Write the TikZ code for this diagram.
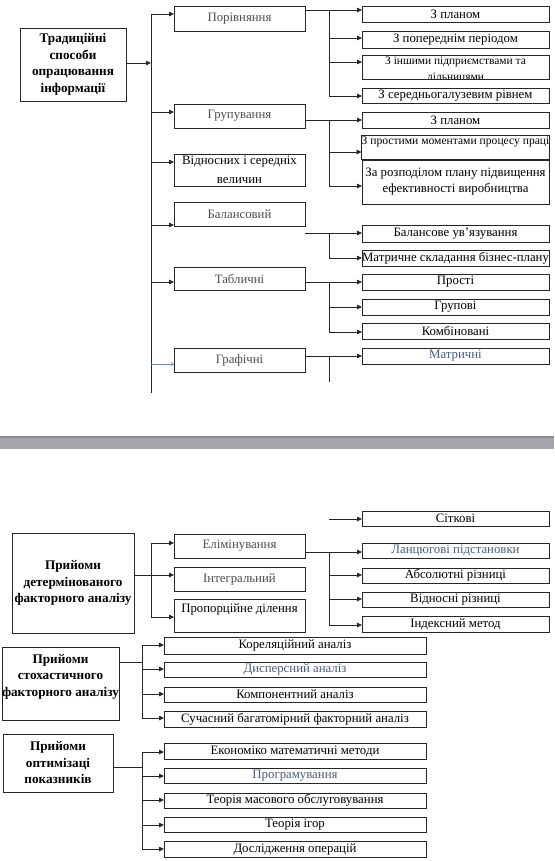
\documentclass[tikz,border=0pt]{standalone}
\usepackage{fontspec}
\setmainfont{Liberation Serif}
\usetikzlibrary{arrows.meta,calc}
\definecolor{bluegray}{HTML}{4A5B7A}
\definecolor{graytxt}{HTML}{4D4D4D}
\definecolor{bandgray}{HTML}{A4A6AB}
\definecolor{banddark}{HTML}{8C8E92}
\definecolor{thinblue}{HTML}{6F88AC}
\tikzset{
  box/.style={draw=black!85, line width=0.8pt, inner sep=0pt, outer sep=0pt, align=center,
              font=\fontsize{12.8}{14}\selectfont},
  head/.style={box, font=\bfseries\fontsize{13.2}{16.5}\selectfont},
  cat/.style={text=graytxt},
  link/.style={line width=0.8pt, draw=black!85},
  arr/.style={link, -{Triangle[length=5pt,width=4.5pt]}},
  thinarr/.style={line width=0.6pt, draw=thinblue, -{To[length=3pt,width=4pt]}},
}
\newcommand\bx[7]{\node[box,#6,minimum width={(#4-#2)*1pt},minimum height={(#5-#3)*1pt}] (#1) at ({(#2+#4)/2},{(#3+#5)/2}) {#7};}
\begin{document}
\begin{tikzpicture}[x=1pt,y=-1pt]
\useasboundingbox (0,0) rectangle (554,861);
\fill[white] (0,0) rectangle (554,861);
% ---------- top section ----------
\bx{main}{20}{28}{126}{101}{head}{Традиційні\\способи\\опрацювання\\інформації}
\bx{por}{174}{6}{305}{31}{cat}{Порівняння}
\bx{gru}{174}{104}{305}{128}{cat}{Групування}
\bx{vid}{174}{154}{305}{186}{font=\fontsize{12.8}{19}\selectfont}{Відносних і середніх\\величин}
\bx{bal}{174}{202}{305}{226}{cat}{Балансовий}
\bx{tab}{174}{267}{305}{290}{cat}{Табличні}
\bx{gra}{174}{348}{305}{372}{cat}{Графічні}

\bx{p1}{362}{6}{549}{22}{}{З планом}
\bx{p2}{362}{31}{549}{48}{}{З попереднім періодом}
\bx{p3}{362}{55}{549}{79}{}{}
\begin{scope}
  \clip (p3.north west) rectangle (p3.south east);
  \node[anchor=north, inner sep=0pt, align=center, font=\fontsize{11.4}{16.5}\selectfont] (p3t) at ($(p3.north)+(0,1.5)$) {З іншими підприємствами та\\дільницями};
\end{scope}
\bx{p4}{362}{88}{549}{103}{}{З середньогалузевим рівнем}
\bx{g1}{362}{112}{549}{128}{}{З планом}
\bx{g2}{362}{135}{549}{159}{font=\fontsize{11.6}{12}\selectfont}{З простими моментами процесу праці\\\mbox{}}
\bx{g3}{362}{160}{549}{204}{font=\fontsize{12.8}{16}\selectfont}{За розподілом плану підвищення\\ефективності виробництва}
\bx{b1}{362}{225}{549}{242}{}{Балансове ув’язування}
\bx{b2}{362}{250}{549}{266}{}{Матричне складання бізнес-плану}
\bx{t1}{362}{274}{549}{290}{}{Прості}
\bx{t2}{362}{299}{549}{315}{}{Групові}
\bx{t3}{362}{323}{549}{339}{}{Комбіновані}
\bx{m1}{362}{348}{549}{364}{text=bluegray}{Матричні}

% main trunk
\coordinate (tA) at (151,14);
\coordinate (tB) at (151,112);
\coordinate (tC) at (151,162);
\coordinate (tD) at (151,225);
\coordinate (tE) at (151,282);
\coordinate (tF) at (151,364);
\coordinate (tEnd) at (151,393);
\coordinate (tM) at (151,63);
\draw[link] (tA) -- (tEnd);
\draw[arr] (main.east |- tM) -- (tM);
\draw[arr] (tA) -- (tA -| por.west);
\draw[arr] (tB) -- (tB -| gru.west);
\draw[arr] (tC) -- (tC -| vid.west);
\draw[arr] (tD) -- (tD -| bal.west);
\draw[arr] (tE) -- (tE -| tab.west);
\draw[thinarr] (tF) -- (tF -| gra.west);

% Порівняння
\coordinate (pj) at (329,10);
\coordinate (pj2) at (329,38);
\coordinate (pj3) at (329,62);
\coordinate (pj4) at (329,96);
\draw[arr] (por.east |- pj) -- (pj -| p1.west);
\draw[link] (pj) -- (pj4);
\draw[arr] (pj2) -- (pj2 -| p2.west);
\draw[arr] (pj3) -- (pj3 -| p3.west);
\draw[arr] (pj4) -- (pj4 -| p4.west);
% Групування
\coordinate (gj) at (329,120);
\coordinate (gj2) at (329,152);
\coordinate (gj3) at (329,186);
\draw[arr] (gru.east |- gj) -- (gj -| g1.west);
\draw[link] (gj) -- (gj3);
\draw[arr] (gj2) -- (gj2 -| g2.west);
\draw[arr] (gj3) -- (gj3 -| g3.west);
% Балансовий
\coordinate (bj) at (329,233);
\coordinate (bj2) at (329,258);
\draw[arr] (bal.east |- bj) -- (bj -| b1.west);
\draw[link] (bj) -- (bj2);
\draw[arr] (bj2) -- (bj2 -| b2.west);
% Табличні
\coordinate (tj) at (329,282);
\coordinate (tj2) at (329,307);
\coordinate (tj3) at (329,332);
\draw[arr] (tab.east |- tj) -- (tj -| t1.west);
\draw[link] (tj) -- (tj3);
\draw[arr] (tj2) -- (tj2 -| t2.west);
\draw[arr] (tj3) -- (tj3 -| t3.west);
% Графічні
\coordinate (mj) at (329,356);
\coordinate (mjEnd) at (329,382);
\draw[arr] (gra.east |- mj) -- (mj -| m1.west);
\draw[link] (mj) -- (mjEnd);

% ---------- band ----------
\fill[bandgray] (0,436) rectangle (554,449);
\fill[banddark] (0,436) rectangle (554,437.5);

% ---------- deterministic ----------
\bx{det}{12}{533}{134}{633}{head}{Прийоми\\детермінованого\\факторного аналізу}
\bx{eli}{174}{534}{305}{558}{cat}{Елімінування}
\bx{int}{174}{567}{305}{591}{cat}{Інтегральний}
\bx{pro}{174}{599}{305}{632}{}{Пропорційне ділення\\\mbox{}}
\bx{s0}{362}{511}{549}{526}{}{Сіткові}
\bx{e1}{362}{543}{549}{558}{text=bluegray}{Ланцюгові підстановки}
\bx{e2}{362}{568}{549}{583}{}{Абсолютні різниці}
\bx{e3}{362}{592}{549}{607}{}{Відносні різниці}
\bx{e4}{362}{616}{549}{632}{}{Індексний метод}

\coordinate (d1) at (151,543);
\coordinate (d2) at (151,575);
\coordinate (d3) at (151,617);
\draw[link] (d1) -- (d3);
\draw[arr] (det.east |- d2) -- (d2 -| int.west);
\draw[arr] (d1) -- (d1 -| eli.west);
\draw[arr] (d3) -- (d3 -| pro.west);

\coordinate (sk) at (329,519);
\draw[arr] (sk) -- (sk -| s0.west);
\coordinate (ej) at (329,552);
\coordinate (ej2) at (329,575);
\coordinate (ej3) at (329,599);
\coordinate (ej4) at (329,625);
\draw[arr] (eli.east |- ej) -- (ej -| e1.west);
\draw[link] (ej) -- (ej4);
\draw[arr] (ej2) -- (ej2 -| e2.west);
\draw[arr] (ej3) -- (ej3 -| e3.west);
\draw[arr] (ej4) -- (ej4 -| e4.west);

% ---------- stochastic ----------
\bx{sto}{3}{647}{118}{720}{head}{Прийоми\\стохастичного\\факторного аналізу\\\mbox{}}
\bx{k1}{164}{637}{426}{654}{}{Кореляційний аналіз}
\bx{k2}{164}{662}{426}{677}{text=bluegray}{Дисперсний аналіз}
\bx{k3}{164}{687}{426}{702}{}{Компонентний аналіз}
\bx{k4}{164}{711}{426}{727}{}{Сучасний багатомірний факторний аналіз}
\coordinate (sj) at (142,662);
\coordinate (s1) at (142,645);
\coordinate (s2) at (142,669);
\coordinate (s3) at (142,694);
\coordinate (s4) at (142,718);
\draw[link] (sto.east |- sj) -- (sj);
\draw[link] (s1) -- (s4);
\draw[arr] (s1) -- (s1 -| k1.west);
\draw[arr] (s2) -- (s2 -| k2.west);
\draw[arr] (s3) -- (s3 -| k3.west);
\draw[arr] (s4) -- (s4 -| k4.west);

% ---------- optimisation ----------
\bx{opt}{3}{734}{113}{792}{head}{Прийоми\\оптимізаці\\показників}
\bx{o1}{164}{743}{426}{759}{}{Економіко математичні методи}
\bx{o2}{164}{768}{426}{783}{text=bluegray}{Програмування}
\bx{o3}{164}{793}{426}{808}{}{Теорія масового обслуговування}
\bx{o4}{164}{817}{426}{832}{}{Теорія ігор}
\bx{o5}{164}{841}{426}{857}{}{Дослідження операцій}
\coordinate (oj) at (142,767);
\coordinate (q1) at (142,752);
\coordinate (q2) at (142,776);
\coordinate (q3) at (142,800);
\coordinate (q4) at (142,825);
\coordinate (q5) at (142,849);
\draw[link] (opt.east |- oj) -- (oj);
\draw[link] (q1) -- (q5);
\draw[arr] (q1) -- (q1 -| o1.west);
\draw[arr] (q2) -- (q2 -| o2.west);
\draw[arr] (q3) -- (q3 -| o3.west);
\draw[arr] (q4) -- (q4 -| o4.west);
\draw[arr] (q5) -- (q5 -| o5.west);
\end{tikzpicture}
\end{document}
